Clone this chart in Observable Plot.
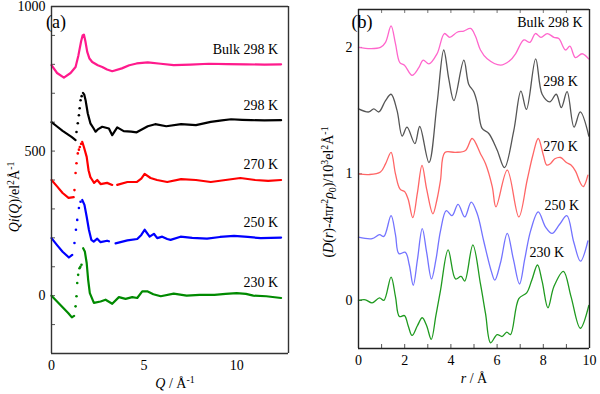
<!DOCTYPE html>
<html><head><meta charset="utf-8">
<script src="https://cdn.jsdelivr.net/npm/d3@7"></script>
<script src="https://cdn.jsdelivr.net/npm/@observablehq/plot@0.6"></script>
<style>
body{margin:0;background:#fff;}
#wrap{display:flex;width:600px;height:394px;background:#fff;}
</style></head><body><div id="wrap"></div>
<script>
// ---------- Panel (a): Qi(Q) ----------
const seriesA = ["Bulk 298 K", "298 K", "270 K", "250 K", "230 K"];
const qA_bulk = [0,0.3,0.67,1.03,1.3,1.45,1.6,1.68,1.75,1.83,1.93,2.05,2.2,2.5,2.74,3.0,3.28,3.8,4.2,4.6,5.2,5.9,6.6,7.5,8.5,9.5,10.5,11.5,12.4];
const vA_bulk = [797,770,754,770,791,830,880,900,903,880,843,820,808,797,791,782,776,786,797,803,807,802,797,799,802,801,800,799,800];
const qA_298 = [0,0.3,0.6,0.9,1.1,1.3,1.5,1.7,1.77,1.84,1.96,2.1,2.27,2.38,2.5,2.74,3.1,3.28,3.55,3.9,4.3,4.6,4.8,5.2,5.6,6.2,7.0,7.8,8.6,9.2,9.7,10.3,10.8,11.5,12.4];
const vA_298 = [600,585,570,557,548,538,null,701,695,676,630,596,579,567,575,584,578,555,582,569,567,565,572,586,593,586,593,590,601,606,610,608,607,606,607];
const qR_298 = [1.35,1.42,1.48,1.52,1.57,1.63];
const vR_298 = [566,596,624,648,676,690];
const qA_270 = [0,0.3,0.6,0.92,1.2,1.4,1.66,1.75,1.9,2.0,2.1,2.2,2.3,2.47,2.65,3.0,3.28,3.4,3.55,4.1,4.6,4.85,5.03,5.35,5.7,6.25,7.0,7.8,8.6,9.4,10.2,11.0,11.7,12.4];
const vA_270 = [400,378,355,338,341,null,532,514,480,434,410,400,390,400,386,390,383,null,383,393,393,405,421,407,400,393,403,400,393,400,407,400,397,400];
const qR_270 = [1.24,1.3,1.35,1.42,1.48,1.53,1.6];
const vR_270 = [365,424,458,492,505,514,525];
const qA_250 = [0,0.3,0.6,0.94,1.12,1.4,1.66,1.78,1.9,2.02,2.15,2.28,2.47,2.65,3.0,3.1,3.3,3.46,4.1,4.63,4.85,5.03,5.3,5.53,5.71,5.98,6.25,6.43,6.97,7.6,8.4,9.1,9.86,10.6,11.3,12.4];
const vA_250 = [199,175,152,132,141,null,331,314,273,228,193,187,197,185,190,188,null,181,191,196,210,228,204,214,199,204,196,193,204,200,197,203,207,203,199,201];
const qR_250 = [1.24,1.32,1.39,1.48,1.57];
const vR_250 = [182,228,262,303,325];
const qA_230 = [0,0.3,0.6,0.9,1.1,1.22,1.5,1.71,1.8,1.9,1.98,2.07,2.29,2.65,2.92,3.28,3.64,4.0,4.36,4.63,4.9,5.17,5.5,5.9,6.6,7.3,8.0,8.8,9.4,10.0,10.5,10.9,11.6,12.4];
const vA_230 = [0,-20,-40,-60,-75,-70,null,164,153,113,55,9,-25,-20,-14,-28,-5,-11,-5,-8,15,15,5,-2,7,0,3,3,6,9,6,0,-2,-8];
const qR_230 = [1.3,1.35,1.39,1.44,1.51,1.56,1.62];
const vR_230 = [-37,-2,44,72,95,100,107];
const ticksA_x = [0, 5, 10];
const ticksA_y = [0, 500, 1000];

// ---------- Panel (b): D(r) - 4πr²ρ0 ----------
const seriesB = ["Bulk 298 K", "298 K", "270 K", "250 K", "230 K"];
const rB_bulk = [0,0.52,0.95,1.17,1.41,1.6,1.79,1.99,2.32,2.61,2.8,3.05,3.4,3.72,3.95,4.27,4.56,4.85,5.06,5.28,5.57,6.15,6.58,6.8,7.16,7.42,7.66,7.9,8.17,8.46,8.67,8.96,9.15,9.39,9.68,9.96];
const vB_bulk = [2.0,1.99,2.0,2.04,2.17,2.03,1.88,1.86,1.78,1.84,1.90,1.87,1.95,2.11,2.08,2.12,2.13,2.15,2.09,1.98,1.91,1.86,1.90,1.95,2.06,2.04,2.11,2.08,2.11,2.08,2.07,1.98,2.01,1.92,1.95,1.91];
const rB_298 = [0,0.45,0.66,0.88,1.17,1.41,1.67,1.89,2.1,2.44,2.65,3.05,3.4,3.69,3.91,4.13,4.56,4.77,4.99,5.14,5.35,5.64,6.0,6.32,6.72,7.03,7.27,7.67,7.95,8.28,8.56,8.78,9.03,9.33,9.6,9.97];
const vB_298 = [1.515,1.49,1.515,1.49,1.58,1.63,1.50,1.30,1.37,1.24,1.375,1.09,1.555,1.98,1.75,1.58,1.90,1.71,1.65,1.56,1.36,1.32,1.19,1.05,1.34,1.655,1.51,1.91,1.63,1.57,1.63,1.525,1.65,1.37,1.49,1.30];
const rB_270 = [0,0.45,0.95,1.17,1.41,1.6,1.8,2.0,2.15,2.35,2.55,2.75,2.95,3.22,3.4,3.55,3.74,4.2,4.63,4.92,5.28,5.5,5.79,5.95,6.44,6.94,7.3,7.55,7.78,8.0,8.15,8.3,8.5,8.75,9.0,9.2,9.4,9.6,9.73,9.93];
const vB_270 = [1.0,0.995,1.015,1.08,1.17,1.0,0.88,0.86,0.80,0.654,0.85,1.067,0.88,0.685,0.80,0.95,1.17,1.17,1.186,1.28,1.16,1.08,0.90,0.74,1.03,0.66,0.95,1.15,1.28,1.15,1.07,1.08,1.12,1.13,1.09,1.07,1.02,0.93,0.90,0.99];
const rB_250 = [0,0.59,0.91,1.1,1.41,1.6,1.75,2.03,2.2,2.37,2.55,2.76,2.95,3.16,3.35,3.55,3.8,4.05,4.31,4.6,4.88,5.14,5.42,5.75,5.9,6.15,6.44,6.7,6.97,7.2,7.45,7.78,8.1,8.38,8.7,9.02,9.32,9.61,9.93];
const vB_250 = [0.50,0.488,0.52,0.506,0.67,0.52,0.37,0.38,0.28,0.12,0.32,0.567,0.38,0.17,0.32,0.55,0.71,0.67,0.76,0.66,0.777,0.685,0.47,0.23,0.16,0.30,0.53,0.33,0.13,0.33,0.55,0.70,0.58,0.53,0.60,0.67,0.46,0.31,0.47];
const rB_230 = [0,0.3,0.59,0.91,1.1,1.41,1.6,1.77,1.99,2.15,2.32,2.55,2.76,2.95,3.15,3.35,3.55,3.88,4.2,4.44,4.6,4.95,5.28,5.5,5.72,6.0,6.22,6.42,6.58,6.94,7.28,7.5,7.75,7.95,8.2,8.46,8.87,9.2,9.6,9.97];
const vB_230 = [0,0.005,-0.02,0.02,0,0.185,0.03,-0.127,-0.12,-0.20,-0.277,-0.20,-0.137,-0.20,-0.308,-0.12,0.08,0.40,0.17,0.19,0.153,0.44,0.13,-0.105,-0.335,-0.27,-0.285,-0.25,-0.27,0.015,0.06,0.16,0.28,0.15,-0.058,0.11,0.23,0.03,-0.22,-0.04];
const ticksB_x = [0, 2, 4, 6, 8, 10];
const ticksB_y = [0, 1, 2];

// ---------- styles ----------
const colA = ["#ff1a8c", "#000000", "#ff0000", "#0000ff", "#008a00"];
const colB = ["#ff66cc", "#555555", "#ff6666", "#7373ff", "#1f9a1f"];
const FONT = "'Liberation Serif', 'Times New Roman', serif";
const fmt = d3.format("d");
const domA_x = [0, 12.8], domA_y = [-200, 1000];
const domB_x = [0, 10], domB_y = [-0.38, 2.3];

const rows = (x, y) => x.map((v, i) => ({x: v, y: y[i]}));
const lineSetsA = [[qA_bulk, vA_bulk], [qA_298, vA_298], [qA_270, vA_270], [qA_250, vA_250], [qA_230, vA_230]];
const riseSetsA = [null, [qR_298, vR_298], [qR_270, vR_270], [qR_250, vR_250], [qR_230, vR_230]];
const lineSetsB = [[rB_bulk, vB_bulk], [rB_298, vB_298], [rB_270, vB_270], [rB_250, vB_250], [rB_230, vB_230]];

const marksA = [];
lineSetsA.forEach(([q, v], k) => {
  marksA.push(Plot.line(rows(q, v), {x: "x", y: "y", stroke: colA[k], strokeWidth: 2.2}));
  if (riseSetsA[k]) marksA.push(Plot.dot(rows(riseSetsA[k][0], riseSetsA[k][1]), {x: "x", y: "y", r: 1.3, fill: colA[k]}));
});
const labA = lineSetsA.map(([q, v], k) => {
  let i = q.length - 1;
  return {x: q[i], y: v[i], t: seriesA[k]};
});

const box = (dx, dy, c) => [
  Plot.ruleX(dx, {stroke: c, strokeWidth: 1.4}),
  Plot.ruleY(dy, {stroke: c, strokeWidth: 1.4})
];

const chartA = Plot.plot({
  width: 300, height: 394,
  marginLeft: 51, marginRight: 12, marginTop: 6, marginBottom: 41,
  style: {fontFamily: FONT, fontSize: "14px", background: "#fff", color: "#000", overflow: "visible"},
  x: {domain: domA_x, label: null},
  y: {domain: domA_y, label: null},
  marks: [
    Plot.axisX({ticks: ticksA_x, tickSize: 0, tickPadding: 7, label: null, fontSize: 14}),
    Plot.axisY({ticks: ticksA_y, tickSize: 0, tickPadding: 6, label: null, fontSize: 14, tickFormat: fmt}),
    Plot.axisY({ticks: d3.range(-100, 1001, 100), tickSize: -4, tickFormat: () => "", label: null, stroke: "#555"}),
    ...marksA,
    ...box(domA_x, domA_y, "#333"),
    Plot.text(labA, {x: "x", y: "y", text: "t", textAnchor: "end", dx: -3, dy: -15, fontSize: 14, fill: "#000"})
  ]
});

const marksB = lineSetsB.map(([r, v], k) =>
  Plot.line(rows(r, v), {x: "x", y: "y", stroke: colB[k], strokeWidth: 1.3, curve: "catmull-rom"}));
const labPosB = [[9.7, 2.2], [9.5, 1.73], [9.5, 1.217], [9.55, 0.75], [8.9, 0.38]];

const chartB = Plot.plot({
  width: 300, height: 394,
  marginLeft: 58, marginRight: 11, marginTop: 9, marginBottom: 46,
  style: {fontFamily: FONT, fontSize: "14px", background: "#fff", color: "#000", overflow: "visible"},
  x: {domain: domB_x, label: null},
  y: {domain: domB_y, label: null},
  marks: [
    Plot.axisX({ticks: ticksB_x, tickSize: 0, tickPadding: 7, label: null, fontSize: 14}),
    Plot.axisX({ticks: d3.range(0, 11, 1), tickSize: -4, tickFormat: () => "", label: null, stroke: "#555"}),
    Plot.axisX({anchor: "top", ticks: d3.range(0, 11, 1), tickSize: -3, tickFormat: () => "", label: null, stroke: "#777"}),
    Plot.axisY({ticks: ticksB_y, tickSize: 0, tickPadding: 6, label: null, fontSize: 14, tickFormat: fmt}),
    Plot.axisY({ticks: ticksB_y, tickSize: -4, tickFormat: () => "", label: null, stroke: "#555"}),
    ...marksB,
    ...box(domB_x, domB_y, "#222"),
    Plot.text(labPosB.map((p, k) => ({x: p[0], y: p[1], t: seriesB[k]})), {x: "x", y: "y", text: "t", textAnchor: "end", fontSize: 14, fill: "#000"})
  ]
});

function addLabel(svg, x, y, rot, parts, size) {
  const t = d3.select(svg).append("text")
    .attr("transform", `translate(${x},${y}) rotate(${rot})`)
    .attr("text-anchor", "middle").attr("font-size", size)
    .attr("font-family", FONT).attr("fill", "#000");
  let shift = 0;
  for (const p of parts) {
    const target = p.sup ? -5 : p.sub ? 3 : 0;
    t.append("tspan").attr("dy", target - shift)
      .attr("font-style", p.i ? "italic" : null)
      .attr("font-size", (p.sup || p.sub) ? size * 0.7 : null)
      .text(p.t);
    shift = target;
  }
}
function addPlain(svg, x, y, s, size) {
  d3.select(svg).append("text").attr("x", x).attr("y", y).attr("font-size", size)
    .attr("font-family", FONT).attr("fill", "#000").text(s);
}

addLabel(chartA, 19, 197, -90, [{t: "Qi", i: 1}, {t: "("}, {t: "Q", i: 1}, {t: ")/el"}, {t: "2", sup: 1}, {t: "Å"}, {t: "-1", sup: 1}], 14);
addLabel(chartA, 175, 388, 0, [{t: "Q", i: 1}, {t: " / Å"}, {t: "-1", sup: 1}], 14);
addPlain(chartA, 56, 28, "(a)", 18);

addLabel(chartB, 33, 192, -90, [{t: "("}, {t: "D", i: 1}, {t: "("}, {t: "r", i: 1}, {t: ")-4π"}, {t: "r", i: 1}, {t: "2", sup: 1}, {t: "ρ", i: 1}, {t: "0", sub: 1}, {t: ")/10"}, {t: "3", sup: 1}, {t: "el"}, {t: "2", sup: 1}, {t: "Å"}, {t: "-1", sup: 1}], 14);
addLabel(chartB, 174, 383, 0, [{t: "r", i: 1}, {t: " / Å"}], 14);
addPlain(chartB, 62, 28, "(b)", 18);

document.getElementById("wrap").append(chartA, chartB);
</script></body></html>
